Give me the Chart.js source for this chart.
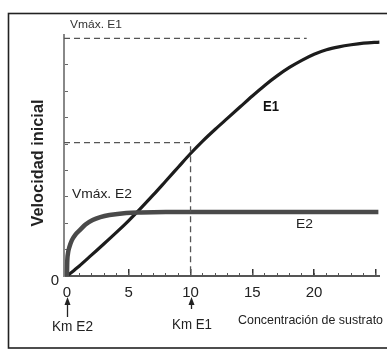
<!DOCTYPE html>
<html><head><meta charset="utf-8">
<script src="https://cdn.jsdelivr.net/npm/chart.js@4/dist/chart.umd.min.js"></script>
<style>html,body{margin:0;padding:0;background:#fff}#c{display:block}</style>
</head><body>
<canvas id="c" width="387" height="349"></canvas>
<script>
// Substrate concentration (x) and initial velocity (y)
const e1X = [0,1,2,3,4,5,6,7,8,9,10,11,12,13,14,15,16,17,18,19,20,21,22,23,24,25.3];
const e1Y = [0,0.38,0.8,1.22,1.65,2.1,2.58,3.08,3.6,4.12,4.64,5.12,5.56,5.98,6.4,6.82,7.22,7.58,7.9,8.17,8.4,8.57,8.68,8.76,8.82,8.86];
const e2X = [0,0.02,0.08,0.2,0.4,0.7,1.04,1.5,2.08,2.7,3.44,4.8,6,8,10,15,20,25.2];
const e2Y = [0,0.5,0.85,1.1,1.36,1.58,1.74,1.95,2.12,2.23,2.31,2.39,2.41,2.42,2.42,2.42,2.42,2.42];
const xTickLabels = ['0','5','10','15','20'];
const yTickLabels = ['0'];
const vmaxE1 = 9, vmaxE1LineEnd = 19.4;
const halfVmaxE1 = 5.05, kmE1 = 10, kmE2 = 0;
const vmaxE2LabelValue = 3;
const xMin = -0.24, xMax = 25.3, yMin = 0, yMax = 9.13;

const pts = (xs, ys) => xs.map((x, i) => ({x, y: ys[i]}));

function fitText(ctx, text, x, y, w, font, color) {
  ctx.save();
  ctx.font = font; ctx.fillStyle = color; ctx.textBaseline = 'middle'; ctx.textAlign = 'left';
  const m = ctx.measureText(text).width;
  ctx.translate(x, y); ctx.scale(w / m, 1);
  ctx.fillText(text, 0, 0);
  ctx.restore();
}

const annot = {
  id: 'annot',
  afterDraw(chart) {
    const ctx = chart.ctx, xs = chart.scales.x, ys = chart.scales.y;
    // frame
    ctx.save();
    ctx.strokeStyle = '#222'; ctx.lineWidth = 1.6;
    ctx.strokeRect(8.5, 13.5, 400, 334.5);
    ctx.restore();
    // labels
    fitText(ctx, 'Vmáx. E1', xs.getPixelForValue(0) + 3, ys.getPixelForValue(vmaxE1) - 13, 52, '11px "Liberation Sans"', '#333');
    fitText(ctx, 'Vmáx. E2', xs.getPixelForValue(0) + 5, ys.getPixelForValue(vmaxE2LabelValue) - 2, 60, '13px "Liberation Sans"', '#222');
    fitText(ctx, 'E1', 263, 107, 16, 'bold 14px "Liberation Sans"', '#111');
    fitText(ctx, 'E2', 296, 224, 17, '13px "Liberation Sans"', '#222');
    fitText(ctx, 'Concentración de sustrato', 238, 320, 145, '13px "Liberation Sans"', '#222');
    fitText(ctx, 'Km E2', 52, 327, 41, '14px "Liberation Sans"', '#222');
    fitText(ctx, 'Km E1', 172, 325, 40, '14px "Liberation Sans"', '#222');
    // y title
    ctx.save();
    ctx.font = 'bold 17px "Liberation Sans"'; ctx.fillStyle = '#222';
    ctx.textAlign = 'center'; ctx.textBaseline = 'middle';
    const tw = ctx.measureText('Velocidad inicial').width;
    ctx.translate(38, 163); ctx.rotate(-Math.PI / 2); ctx.scale(127 / tw, 1);
    ctx.fillText('Velocidad inicial', 0, 0);
    ctx.restore();
    // arrows
    const arrow = (xv, yTop, yBot) => {
      const px = Math.round(xs.getPixelForValue(xv)) + 0.5;
      ctx.save();
      ctx.strokeStyle = '#222'; ctx.fillStyle = '#222'; ctx.lineWidth = 1.3;
      ctx.beginPath(); ctx.moveTo(px, yBot); ctx.lineTo(px, yTop + 6); ctx.stroke();
      ctx.beginPath(); ctx.moveTo(px, yTop); ctx.lineTo(px - 3, yTop + 8); ctx.lineTo(px + 3, yTop + 8); ctx.closePath(); ctx.fill();
      ctx.restore();
    };
    arrow(kmE2, 297, 317);
    arrow(kmE1, 297, 309);
  }
};

new Chart(document.getElementById('c'), {
  type: 'line',
  data: {
    datasets: [
      { label: 'Vmáx E1', data: [{x: xMin, y: vmaxE1}, {x: vmaxE1LineEnd, y: vmaxE1}], borderColor: '#555', borderWidth: 1.3, borderDash: [6, 4], pointRadius: 0, fill: false },
      { label: 'Km E1', data: [{x: xMin, y: halfVmaxE1}, {x: kmE1, y: halfVmaxE1}, {x: kmE1, y: 0}], borderColor: '#555', borderWidth: 1.3, borderDash: [6, 4], pointRadius: 0, fill: false },
      { label: 'E2', data: pts(e2X, e2Y), borderColor: '#4a4a4a', borderWidth: 4.5, pointRadius: 0, cubicInterpolationMode: 'monotone', fill: false },
      { label: 'E1', data: pts(e1X, e1Y), borderColor: '#1c1c1c', borderWidth: 3.2, pointRadius: 0, cubicInterpolationMode: 'monotone', fill: false }
    ]
  },
  options: {
    responsive: false, animation: false, devicePixelRatio: 1,
    layout: { padding: { top: 35, right: 387 - 383.25, left: 0, bottom: 0 } },
    plugins: { legend: { display: false }, tooltip: { enabled: false } },
    scales: {
      xMaj: {
        type: 'linear', position: 'bottom', min: xMin, max: xMax, weight: -1,
        afterFit: s => { s.height = 0; },
        border: { display: false },
        grid: { drawOnChartArea: false, tickLength: -7, color: '#333', lineWidth: 1.5 },
        ticks: { display: false, stepSize: 5, includeBounds: false }
      },
      x: {
        type: 'linear', position: 'bottom', min: xMin, max: xMax, weight: 0,
        afterFit: s => { s.height = 349 - 276; },
        border: { display: true, color: '#555', width: 2 },
        grid: { drawOnChartArea: false, tickLength: -3, color: '#555', lineWidth: 1 },
        ticks: {
          stepSize: 1, includeBounds: false, autoSkip: false, maxRotation: 0, padding: 11,
          color: '#222', font: { family: 'Liberation Sans', size: 15 },
          callback: v => xTickLabels.includes(String(v)) ? String(v) : ''
        }
      },
      y: {
        type: 'linear', position: 'left', min: yMin, max: yMax,
        afterFit: s => { s.width = 64; },
        border: { display: true, color: '#888', width: 2 },
        grid: { drawOnChartArea: false, tickLength: -4, color: '#666', lineWidth: 1 },
        ticks: {
          stepSize: 1, includeBounds: false, autoSkip: false, padding: 9, labelOffset: 5,
          color: '#222', font: { family: 'Liberation Sans', size: 15 },
          callback: v => yTickLabels.includes(String(v)) ? String(v) : ''
        }
      }
    }
  },
  plugins: [annot]
});
</script>
</body></html>
